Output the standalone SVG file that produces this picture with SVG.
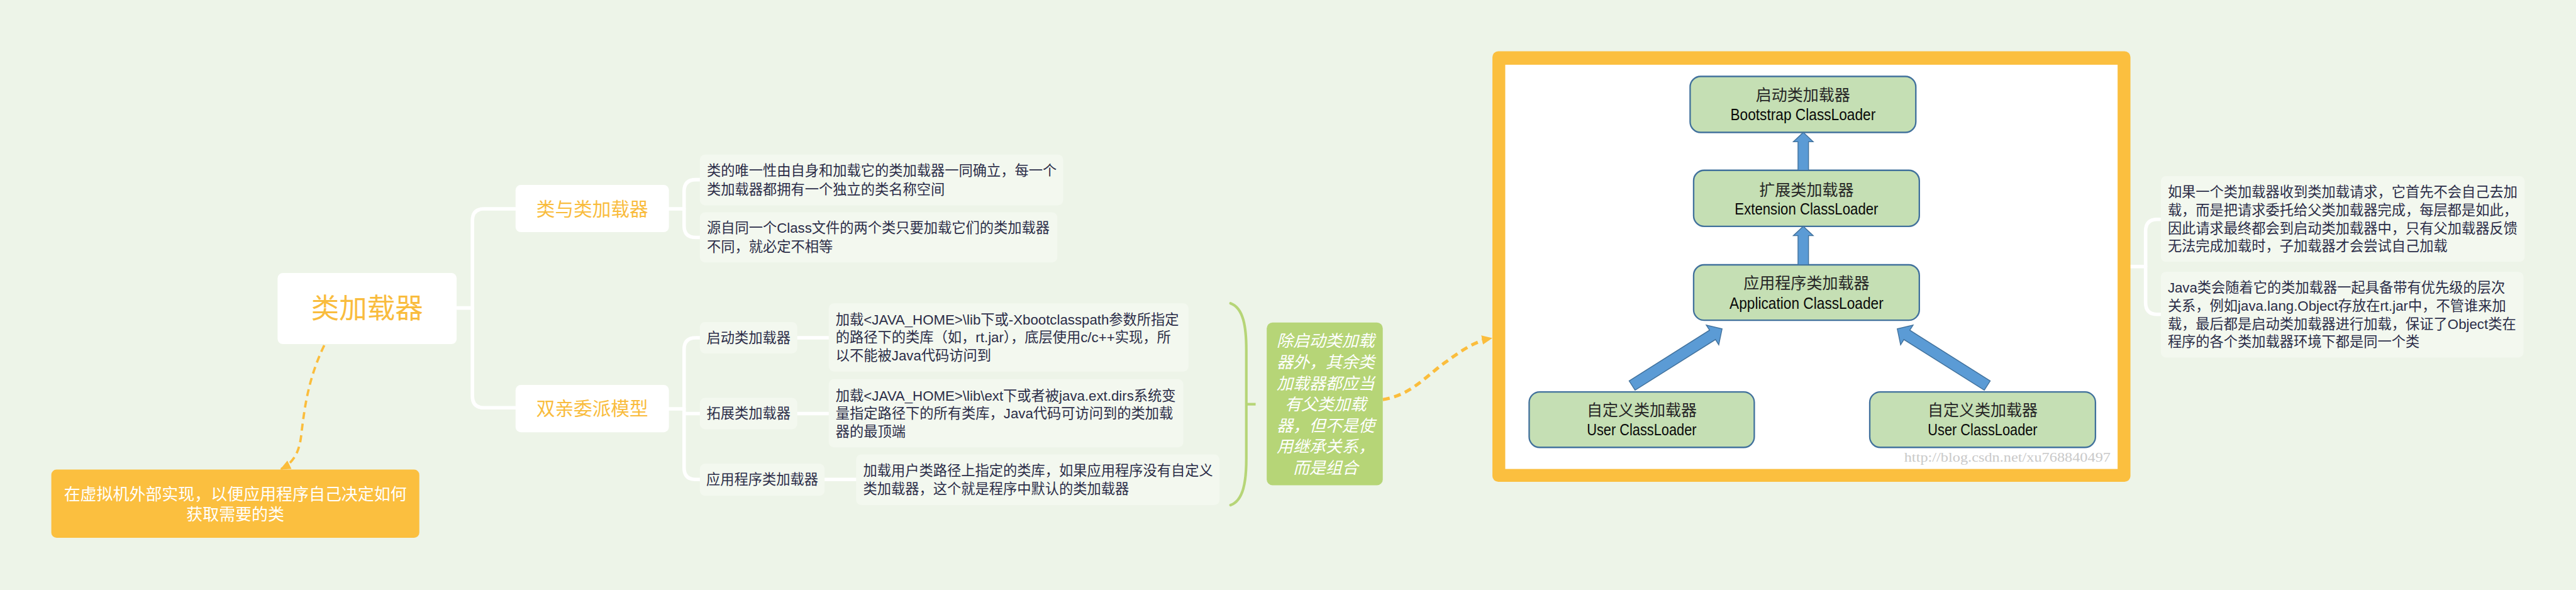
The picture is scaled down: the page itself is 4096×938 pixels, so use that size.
<svg xmlns="http://www.w3.org/2000/svg" width="4096" height="938" viewBox="0 0 4096 938">
<defs>
<style>
.bg{fill:#EDF4E8}
.wnode{fill:#FFFFFF}
.leaf{fill:#F3F8EF}
.ot{font-family:"Liberation Sans","Noto Sans CJK SC",sans-serif;fill:#F9BC3D;text-anchor:middle}
.dt{font-family:"Liberation Sans","Noto Sans CJK SC",sans-serif;font-size:24px;fill:#2B2D48}
.wt{font-family:"Liberation Sans","Noto Sans CJK SC",sans-serif;font-size:28px;fill:#FFFFFF;text-anchor:middle}
.conn{fill:none;stroke:#FFFFFF;stroke-width:6;stroke-linecap:round}
.dash{fill:none;stroke:#FBBD3C;stroke-dasharray:12 8}
.cl{fill:#C5DFB4;stroke:#41719C;stroke-width:2.5}
.clz{font-family:"Noto Sans CJK SC",sans-serif;font-size:27px;fill:#262626;text-anchor:middle}
.cle{font-family:"Liberation Sans",sans-serif;font-size:27px;fill:#0A0A0A;text-anchor:middle}
.barrow{fill:#5B9BD5;stroke:#41719C;stroke-width:1.5}
</style>
<marker id="oa" markerUnits="userSpaceOnUse" markerWidth="20" markerHeight="20" viewBox="0 0 20 20" refX="16" refY="10" orient="auto">
<path d="M0,2 L18,10 L0,18 z" fill="#FBBD3C"/>
</marker>
</defs>
<rect class="bg" x="0" y="0" width="4096" height="938"/>
<g transform="scale(0.92733)">

<g id="connectors">
<path class="conn" d="M784,528 H810"/>
<path class="conn" d="M884,358 H830 Q810,358 810,378 V679 Q810,699 830,699 H884"/>
<path class="conn" d="M1147,358 H1173"/>
<path class="conn" d="M1200,308 H1193 Q1173,308 1173,328 V387 Q1173,407 1193,407 H1200"/>
<path class="conn" d="M1147,701 H1173"/>
<path class="conn" d="M1200,579 H1193 Q1173,579 1173,599 V802 Q1173,822 1193,822 H1200"/>
<path class="conn" d="M1173,709 H1200"/>
<path class="conn" d="M1367,579 H1421"/>
<path class="conn" d="M1367,709 H1421"/>
<path class="conn" d="M1414,822 H1468"/>
<path class="conn" d="M3653,457 H3679"/>
<path class="conn" d="M3705,376 H3699 Q3679,376 3679,396 V519 Q3679,539 3699,539 H3705"/>
<path d="M2110,520 C2132,528 2137,560 2137,600 V786 C2137,826 2132,858 2110,866" fill="none" stroke="#B6D577" stroke-width="4.5" stroke-linecap="round"/>
<path d="M2137,693 H2153" fill="none" stroke="#B6D577" stroke-width="4.5"/>
<path class="dash" stroke-width="4" d="M556,592 C528,650 522,700 516,750 C512,780 500,795 482,804" marker-end="url(#oa)"/>
<path class="dash" stroke-width="5.5" d="M2371,685 C2420,678 2450,640 2480,620 C2510,598 2530,585 2557,580" marker-end="url(#oa)"/>
</g>

<g id="root">
<rect class="wnode" x="476" y="468" width="307" height="122" rx="9"/>
<text class="ot" x="629.5" y="546" font-size="48">类加载器</text>
</g>

<g id="external-note">
<rect x="88" y="805" width="631" height="117" rx="9" fill="#FBBF3F"/>
<text class="wt" x="403.5" y="857">在虚拟机外部实现，以便应用程序自己决定如何</text>
<text class="wt" x="403.5" y="892">获取需要的类</text>
</g>

<g id="class-and-loader">
<rect class="wnode" x="884" y="317" width="263" height="81" rx="9"/>
<text class="ot" x="1015.5" y="369.5" font-size="32">类与类加载器</text>
</g>

<g id="parent-delegation">
<rect class="wnode" x="884" y="660" width="263" height="81" rx="9"/>
<text class="ot" x="1015.5" y="712" font-size="32">双亲委派模型</text>
</g>

<g id="leaf-uniqueness">
<rect class="leaf" x="1200" y="265" width="623" height="87" rx="9"/>
<text class="dt" x="1212" y="300.5">类的唯一性由自身和加载它的类加载器一同确立，每一个</text>
<text class="dt" x="1212" y="333.5">类加载器都拥有一个独立的类名称空间</text>
</g>

<g id="leaf-not-equal">
<rect class="leaf" x="1200" y="364" width="613" height="86" rx="9"/>
<text class="dt" x="1212" y="399.5">源自同一个Class文件的两个类只要加载它们的类加载器</text>
<text class="dt" x="1212" y="431.5">不同，就必定不相等</text>
</g>

<g id="bootstrap-label">
<rect class="leaf" x="1200" y="552" width="167" height="54" rx="9"/>
<text class="dt" x="1283.5" y="587.5" text-anchor="middle">启动类加载器</text>
</g>
<g id="extension-label">
<rect class="leaf" x="1200" y="682" width="167" height="54" rx="9"/>
<text class="dt" x="1283.5" y="717.5" text-anchor="middle">拓展类加载器</text>
</g>
<g id="application-label">
<rect class="leaf" x="1200" y="795" width="214" height="55" rx="9"/>
<text class="dt" x="1307" y="830.5" text-anchor="middle">应用程序类加载器</text>
</g>

<g id="bootstrap-desc">
<rect class="leaf" x="1421" y="520" width="617" height="117" rx="9"/>
<text class="dt" x="1433" y="556">加载&lt;JAVA_HOME&gt;\lib下或-Xbootclasspath参数所指定</text>
<text class="dt" x="1433" y="587">的路径下的类库（如，rt.jar），底层使用c/c++实现，所</text>
<text class="dt" x="1433" y="618">以不能被Java代码访问到</text>
</g>
<g id="extension-desc">
<rect class="leaf" x="1421" y="650" width="608" height="117" rx="9"/>
<text class="dt" x="1433" y="686.5">加载&lt;JAVA_HOME&gt;\lib\ext下或者被java.ext.dirs系统变</text>
<text class="dt" x="1433" y="717.5">量指定路径下的所有类库，Java代码可访问到的类加载</text>
<text class="dt" x="1433" y="748.5">器的最顶端</text>
</g>
<g id="application-desc">
<rect class="leaf" x="1468" y="779" width="623" height="87" rx="9"/>
<text class="dt" x="1480" y="815.5">加载用户类路径上指定的类库，如果应用程序没有自定义</text>
<text class="dt" x="1480" y="846.5">类加载器，这个就是程序中默认的类加载器</text>
</g>

<g id="summary">
<rect x="2172" y="553" width="199" height="279" rx="10" fill="#B6D577"/>
<g class="wt" font-style="italic">
<text x="2273" y="594">除启动类加载</text>
<text x="2273" y="630.5">器外，其余类</text>
<text x="2273" y="667">加载器都应当</text>
<text x="2273" y="703">有父类加载</text>
<text x="2273" y="739.5">器，但不是使</text>
<text x="2273" y="775.5">用继承关系，</text>
<text x="2273" y="812">而是组合</text>
</g>
</g>

<g id="hierarchy-image">
<rect x="2559" y="88" width="1094" height="738" rx="10" fill="#FBBF3F"/>
<rect x="2581" y="111" width="1050" height="693" fill="#FFFFFF"/>
<rect class="cl" x="2898" y="131" width="387" height="96" rx="18"/>
<text class="clz" x="3091.5" y="173">启动类加载器</text>
<text class="cle" x="3091.5" y="206.5" textLength="249" lengthAdjust="spacingAndGlyphs">Bootstrap ClassLoader</text>
<rect class="cl" x="2904" y="292" width="387" height="96" rx="18"/>
<text class="clz" x="3097.5" y="335">扩展类加载器</text>
<text class="cle" x="3097.5" y="367.5" textLength="246" lengthAdjust="spacingAndGlyphs">Extension ClassLoader</text>
<rect class="cl" x="2904" y="454" width="387" height="95" rx="18"/>
<text class="clz" x="3097.5" y="495">应用程序类加载器</text>
<text class="cle" x="3097.5" y="529.5" textLength="264" lengthAdjust="spacingAndGlyphs">Application ClassLoader</text>
<rect class="cl" x="2622" y="672" width="386" height="95" rx="18"/>
<text class="clz" x="2815" y="713">自定义类加载器</text>
<text class="cle" x="2815" y="746.5" textLength="188" lengthAdjust="spacingAndGlyphs">User ClassLoader</text>
<rect class="cl" x="3206" y="672" width="387" height="95" rx="18"/>
<text class="clz" x="3399.5" y="713">自定义类加载器</text>
<text class="cle" x="3399.5" y="746.5" textLength="188" lengthAdjust="spacingAndGlyphs">User ClassLoader</text>
<polygon class="barrow" points="3083,292 3083,243 3075,243 3092,227 3109,243 3101,243 3101,292"/>
<polygon class="barrow" points="3083,454 3083,404 3075,404 3092,388 3109,404 3101,404 3101,454"/>
<polygon class="barrow" points="2793.4,653 2931.3,566.1 2925.7,557.2 2952.8,563.8 2947.1,591 2941.5,582.1 2803.6,669"/>
<polygon class="barrow" points="3412.6,653 3274.7,566.1 3280.3,557.2 3253.2,563.8 3258.9,591 3264.5,582.1 3402.4,669"/>
<text x="3265" y="791" font-family="Liberation Serif,serif" font-size="22" fill="#C9C9C9" textLength="354" lengthAdjust="spacingAndGlyphs">http://blog.csdn.net/xu768840497</text>
</g>

<g id="delegation-note">
<rect class="leaf" x="3705" y="302" width="624" height="147" rx="9"/>
<text class="dt" x="3717" y="337.6">如果一个类加载器收到类加载请求，它首先不会自己去加</text>
<text class="dt" x="3717" y="368.6">载，而是把请求委托给父类加载器完成，每层都是如此，</text>
<text class="dt" x="3717" y="399.6">因此请求最终都会到启动类加载器中，只有父加载器反馈</text>
<text class="dt" x="3717" y="430.6">无法完成加载时，子加载器才会尝试自己加载</text>
</g>
<g id="priority-note">
<rect class="leaf" x="3705" y="466" width="622" height="147" rx="9"/>
<text class="dt" x="3717" y="501.6">Java类会随着它的类加载器一起具备带有优先级的层次</text>
<text class="dt" x="3717" y="532.6">关系，例如java.lang.Object存放在rt.jar中，不管谁来加</text>
<text class="dt" x="3717" y="563.6">载，最后都是启动类加载器进行加载，保证了Object类在</text>
<text class="dt" x="3717" y="594.6">程序的各个类加载器环境下都是同一个类</text>
</g>

</g>
</svg>
